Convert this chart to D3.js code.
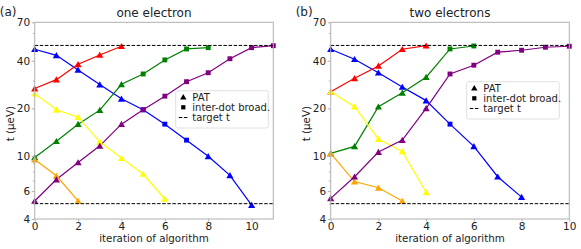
<!DOCTYPE html>
<html><head><meta charset="utf-8">
<script src="https://cdn.jsdelivr.net/npm/d3@7"></script>
<style>
body{margin:0;background:#fff;}
svg text{font-family:"DejaVu Sans",sans-serif;}
</style></head>
<body><svg id="c" width="581" height="249"></svg>
<script>
// ---- data ----
const yTicks = [4, 6, 10, 20, 40, 70];
const yMinor = [5, 7, 8, 9, 30, 50, 60];
const targetHigh = 50;
const targetLow = 5;
const seriesColors = ["blue", "red", "green", "yellow", "orange", "purple"];

// panel (a) one electron
const aBlue   = [47.3, 43.3, 35.0, 28.3, 23.0, 19.6, 15.9, 12.6, 9.96, 7.55, 4.9];
const aBlueM  = ["^","^","^","^","^","s","s","s","^","^","^"];
const aRed    = [26.7, 30.4, 38.0, 43.5, 49.4];
const aRedM   = ["^","^","^","^","^"];
const aGreen  = [9.8, 12.4, 15.9, 19.5, 28.4, 33.0, 40.5, 47.5, 48.4];
const aGreenM = ["^","^","^","^","^","s","s","s","s"];
const aYellow = [24.8, 19.6, 17.6, 12.3, 9.7, 7.7, 5.35];
const aYellowM= ["^","^","^","^","^","^","^"];
const aOrange = [9.5, 7.5, 5.2];
const aOrangeM= ["^","^","^"];
const aPurple = [5.2, 7.1, 9.1, 11.6, 15.9, 19.6, 23.9, 29.5, 33.6, 41.2, 48.4, 49.8];
const aPurpleM= ["^","^","^","^","^","s","s","s","s","s","s","s"];

// panel (b) two electrons
const bBlue   = [47.3, 40.9, 33.6, 27.3, 22.4, 15.9, 11.5, 7.4, 5.5];
const bBlueM  = ["^","^","^","^","^","s","^","^","^"];
const bRed    = [25.5, 31.0, 37.1, 47.3, 49.8];
const bRedM   = ["^","^","^","^","^"];
const bGreen  = [10.4, 11.5, 20.5, 25.1, 31.5, 47.5, 49.6];
const bGreenM = ["^","^","^","^","^","s","s"];
const bYellow = [25.5, 20.5, 12.8, 10.7, 5.9];
const bYellowM= ["^","^","^","^","^"];
const bOrange = [10.4, 6.9, 6.3, 5.2];
const bOrangeM= ["^","^","^","^"];
const bPurple = [5.4, 7.4, 10.6, 12.6, 20.0, 33.0, 37.5, 45.3, 46.6, 48.7, 49.4];
const bPurpleM= ["^","^","^","^","^","s","s","s","s","s","s"];

const xTicks = [0, 2, 4, 6, 8, 10];

const panels = [
  {tag:"(a)", title:"one electron", xmax:11, left:34.7,
   series:[[aBlue,aBlueM],[aRed,aRedM],[aGreen,aGreenM],[aYellow,aYellowM],[aOrange,aOrangeM],[aPurple,aPurpleM]],
   legend:{x:175.7, y:90.7, w:92.6, h:37.3}},
  {tag:"(b)", title:"two electrons", xmax:10, left:330.7,
   series:[[bBlue,bBlueM],[bRed,bRedM],[bGreen,bGreenM],[bYellow,bYellowM],[bOrange,bOrangeM],[bPurple,bPurpleM]],
   legend:{x:466.7, y:81.7, w:92.6, h:37.3}}
];

const svg = d3.select("#c");
const W = 238.6, plotTop = 22.3, plotBottom = 219;
const y = d3.scaleLog().domain([4, 70]).range([plotBottom, plotTop]);
const spine = "#b0b0b0";

const tri = d3.symbol().type(d3.symbolTriangle).size(22);
const sq = d3.symbol().type(d3.symbolSquare).size(24);

panels.forEach((p, pi) => {
  const x = d3.scaleLinear().domain([0, p.xmax]).range([p.left, p.left + W]);
  const g = svg.append("g");

  p.series.forEach((s, si) => {
    const vals = s[0];
    const col = seriesColors[si];
    g.append("path").attr("d", d3.line().x((d, i) => x(i)).y(d => y(d))(vals))
      .attr("fill", "none").attr("stroke", col).attr("stroke-width", 1.2);
  });
  p.series.forEach((s, si) => {
    const vals = s[0], marks = s[1];
    const col = seriesColors[si];
    vals.forEach((v, i) => {
      g.append("path").attr("d", marks[i] === "s" ? sq() : tri())
        .attr("transform", `translate(${x(i)},${y(v) + (marks[i]==="s"?0:0.8)})`)
        .attr("fill", col);
    });
  });

  [targetHigh, targetLow].forEach(t => {
    g.append("line").attr("x1", x(0)).attr("x2", x(p.xmax))
      .attr("y1", y(t)).attr("y2", y(t))
      .attr("stroke", "#000").attr("stroke-width", 1).attr("stroke-dasharray", "3.5,1.6");
  });

  g.append("rect").attr("x", p.left).attr("y", plotTop).attr("width", W).attr("height", plotBottom - plotTop)
    .attr("fill", "none").attr("stroke", spine).attr("stroke-width", 1);

  const ya = d3.axisLeft(y).tickValues(yTicks).tickFormat(d3.format("d")).tickSize(3).tickPadding(1.5);
  const yg = g.append("g").attr("transform", `translate(${p.left},0)`).call(ya);
  yg.select(".domain").remove();
  yg.selectAll("line").attr("stroke", spine);
  yg.selectAll("text").attr("font-size", 10.5).attr("fill", "#222").attr("font-family", "DejaVu Sans");
  const ym = d3.axisLeft(y).tickValues(yMinor).tickFormat("").tickSize(1.8);
  const ymg = g.append("g").attr("transform", `translate(${p.left},0)`).call(ym);
  ymg.select(".domain").remove();
  ymg.selectAll("line").attr("stroke", spine);

  const xa = d3.axisBottom(x).tickValues(xTicks).tickFormat(d3.format("d")).tickSize(2.5).tickPadding(1);
  const xg = g.append("g").attr("transform", `translate(0,${plotBottom})`).call(xa);
  xg.select(".domain").remove();
  xg.selectAll("line").attr("stroke", spine);
  xg.selectAll("text").attr("font-size", 10.5).attr("fill", "#222").attr("font-family", "DejaVu Sans");

  g.append("text").attr("x", p.left + W / 2).attr("y", 242).attr("text-anchor", "middle")
    .attr("font-size", 10.3).attr("fill", "#222").text("iteration of algorithm");
  g.append("text").attr("transform", `translate(${p.left - 21},${(plotTop + plotBottom) / 2 + 3}) rotate(-90)`)
    .attr("text-anchor", "middle").attr("font-size", 10.3).attr("fill", "#222").text("t (μeV)");
  g.append("text").attr("x", p.left + W / 2).attr("y", 17).attr("text-anchor", "middle")
    .attr("font-size", 12).attr("fill", "#222").text(p.title);
  g.append("text").attr("x", p.left - 35).attr("y", 16).attr("text-anchor", "start")
    .attr("font-size", 12).attr("fill", "#222").text(p.tag);

  const L = p.legend;
  const lg = g.append("g");
  lg.append("rect").attr("x", L.x).attr("y", L.y).attr("width", L.w).attr("height", L.h)
    .attr("rx", 2).attr("fill", "#fff").attr("fill-opacity", 0.85).attr("stroke", "#d8d8d8").attr("stroke-width", 0.8);
  const items = [["^", "PAT"], ["s", "inter-dot broad."], ["--", "target t"]];
  items.forEach((it, k) => {
    const base = L.y + 10 + k * 10.2;
    const cy = base - 3.6;
    const hx = L.x + 7.6;
    if (it[0] === "--") {
      lg.append("line").attr("x1", hx - 4.5).attr("x2", hx + 4.5).attr("y1", cy).attr("y2", cy)
        .attr("stroke", "#000").attr("stroke-width", 1).attr("stroke-dasharray", "3.5,1.6");
    } else {
      lg.append("path").attr("d", it[0] === "s" ? d3.symbol().type(d3.symbolSquare).size(18)() : d3.symbol().type(d3.symbolTriangle).size(18)())
        .attr("transform", `translate(${hx},${cy + (it[0]==="s"?0:0.6)})`).attr("fill", "#000");
    }
    lg.append("text").attr("x", L.x + 16.6).attr("y", base).attr("font-size", 10).attr("fill", "#222").text(it[1]);
  });
});
</script>
</body></html>
